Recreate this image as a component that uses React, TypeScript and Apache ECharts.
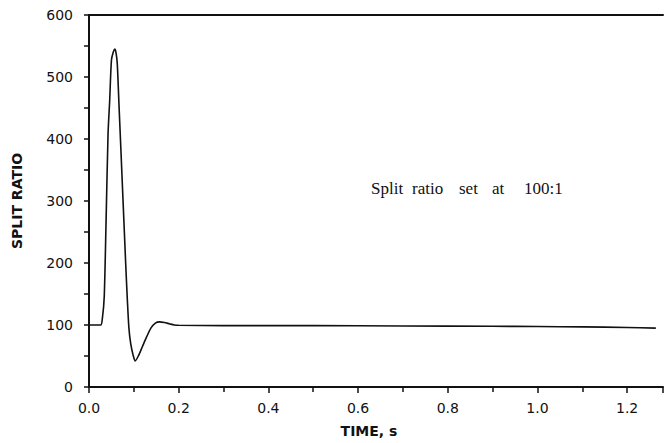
import React, { useEffect, useRef } from "react";
import * as echarts from "echarts";

const timeS = [
  0, 0.026, 0.03, 0.034, 0.038, 0.0425, 0.046, 0.05, 0.054, 0.0575, 0.06, 0.063,
  0.067, 0.071, 0.076, 0.082, 0.0857, 0.089, 0.093, 0.0985, 0.103, 0.11, 0.119,
  0.128, 0.138, 0.148, 0.157, 0.168, 0.179, 0.19, 0.2, 0.3, 0.5, 0.7, 0.9, 1.0,
  1.1, 1.2, 1.264,
];
const splitRatio = [
  100, 100, 112, 146, 265, 409, 460, 527, 540, 545, 540, 522, 453, 385, 299, 196,
  138, 95, 70, 51, 42, 50, 65, 80, 95, 103, 105, 104, 102, 100, 99.5, 99, 99,
  98.5, 98, 97.5, 97, 96, 95,
];
const xTicks = { min: 0, max: 1.28, interval: 0.2 };
const yTicks = { min: 0, max: 600, interval: 100 };
const annotationWords = ["Split", "ratio", "set", "at", "100:1"];
const annotationX = [371, 412, 459, 492, 524];

export default function App() {
  const ref = useRef<HTMLDivElement>(null);
  useEffect(() => {
    if (!ref.current) return;
    const chart = echarts.init(ref.current, undefined, { renderer: "svg" });
    const axisCol = "#111";
    const tickFont = { fontFamily: "DejaVu Sans", fontSize: 14, color: "#111" };
    chart.setOption({
      animation: false,
      backgroundColor: "#fff",
      grid: { left: 89, right: 3, top: 15, bottom: 56, containLabel: false },
      xAxis: [
        {
          type: "value",
          min: xTicks.min,
          max: xTicks.max,
          interval: xTicks.interval,
          name: "TIME, s",
          nameLocation: "middle",
          nameGap: 37,
          nameTextStyle: {
            fontFamily: "DejaVu Sans",
            fontWeight: "bold",
            fontSize: 14,
            color: "#111",
            padding: [0, 14, 0, 0],
          },
          axisLine: { lineStyle: { color: axisCol, width: 2 } },
          axisTick: { show: true, length: 6, lineStyle: { color: axisCol, width: 1.5 } },
          minorTick: { show: true, splitNumber: 2, length: 5, lineStyle: { color: axisCol, width: 1.5 } },
          splitLine: { show: false },
          axisLabel: {
            ...tickFont,
            margin: 14,
            showMaxLabel: false,
            formatter: (v: number) => v.toFixed(1),
          },
        },
        {
          type: "value",
          position: "top",
          min: xTicks.min,
          max: xTicks.max,
          axisLine: { show: true, onZero: false, lineStyle: { color: axisCol, width: 2 } },
          axisTick: { show: false },
          axisLabel: { show: false },
          splitLine: { show: false },
        },
      ],
      yAxis: {
        type: "value",
        min: yTicks.min,
        max: yTicks.max,
        interval: yTicks.interval,
        name: "SPLIT RATIO",
        nameLocation: "middle",
        nameGap: 65,
        nameTextStyle: {
          fontFamily: "DejaVu Sans",
          fontWeight: "bold",
          fontSize: 14,
          color: "#111",
        },
        axisLine: { show: true, lineStyle: { color: axisCol, width: 2 } },
        axisTick: { show: true, length: 5, lineStyle: { color: axisCol, width: 1.5 } },
        minorTick: { show: true, splitNumber: 2, length: 5, lineStyle: { color: axisCol, width: 1.5 } },
        splitLine: { show: false },
        axisLabel: { ...tickFont, margin: 16 },
      },
      series: [
        {
          type: "line",
          data: timeS.map((t, i) => [t, splitRatio[i]]),
          showSymbol: false,
          smooth: 0.25,
          lineStyle: { color: "#111", width: 1.6 },
        },
      ],
      graphic: annotationWords.map((w, i) => ({
        type: "text",
        x: annotationX[i],
        y: 188,
        style: {
          text: w,
          fontFamily: "Liberation Serif",
          fontSize: 17,
          fill: "#111",
          verticalAlign: "middle",
        },
      })),
    });
    return () => chart.dispose();
  }, []);
  return (
    <div
      ref={ref}
      style={{ position: "fixed", left: 0, top: 0, width: 666, height: 443, background: "#fff" }}
    />
  );
}
